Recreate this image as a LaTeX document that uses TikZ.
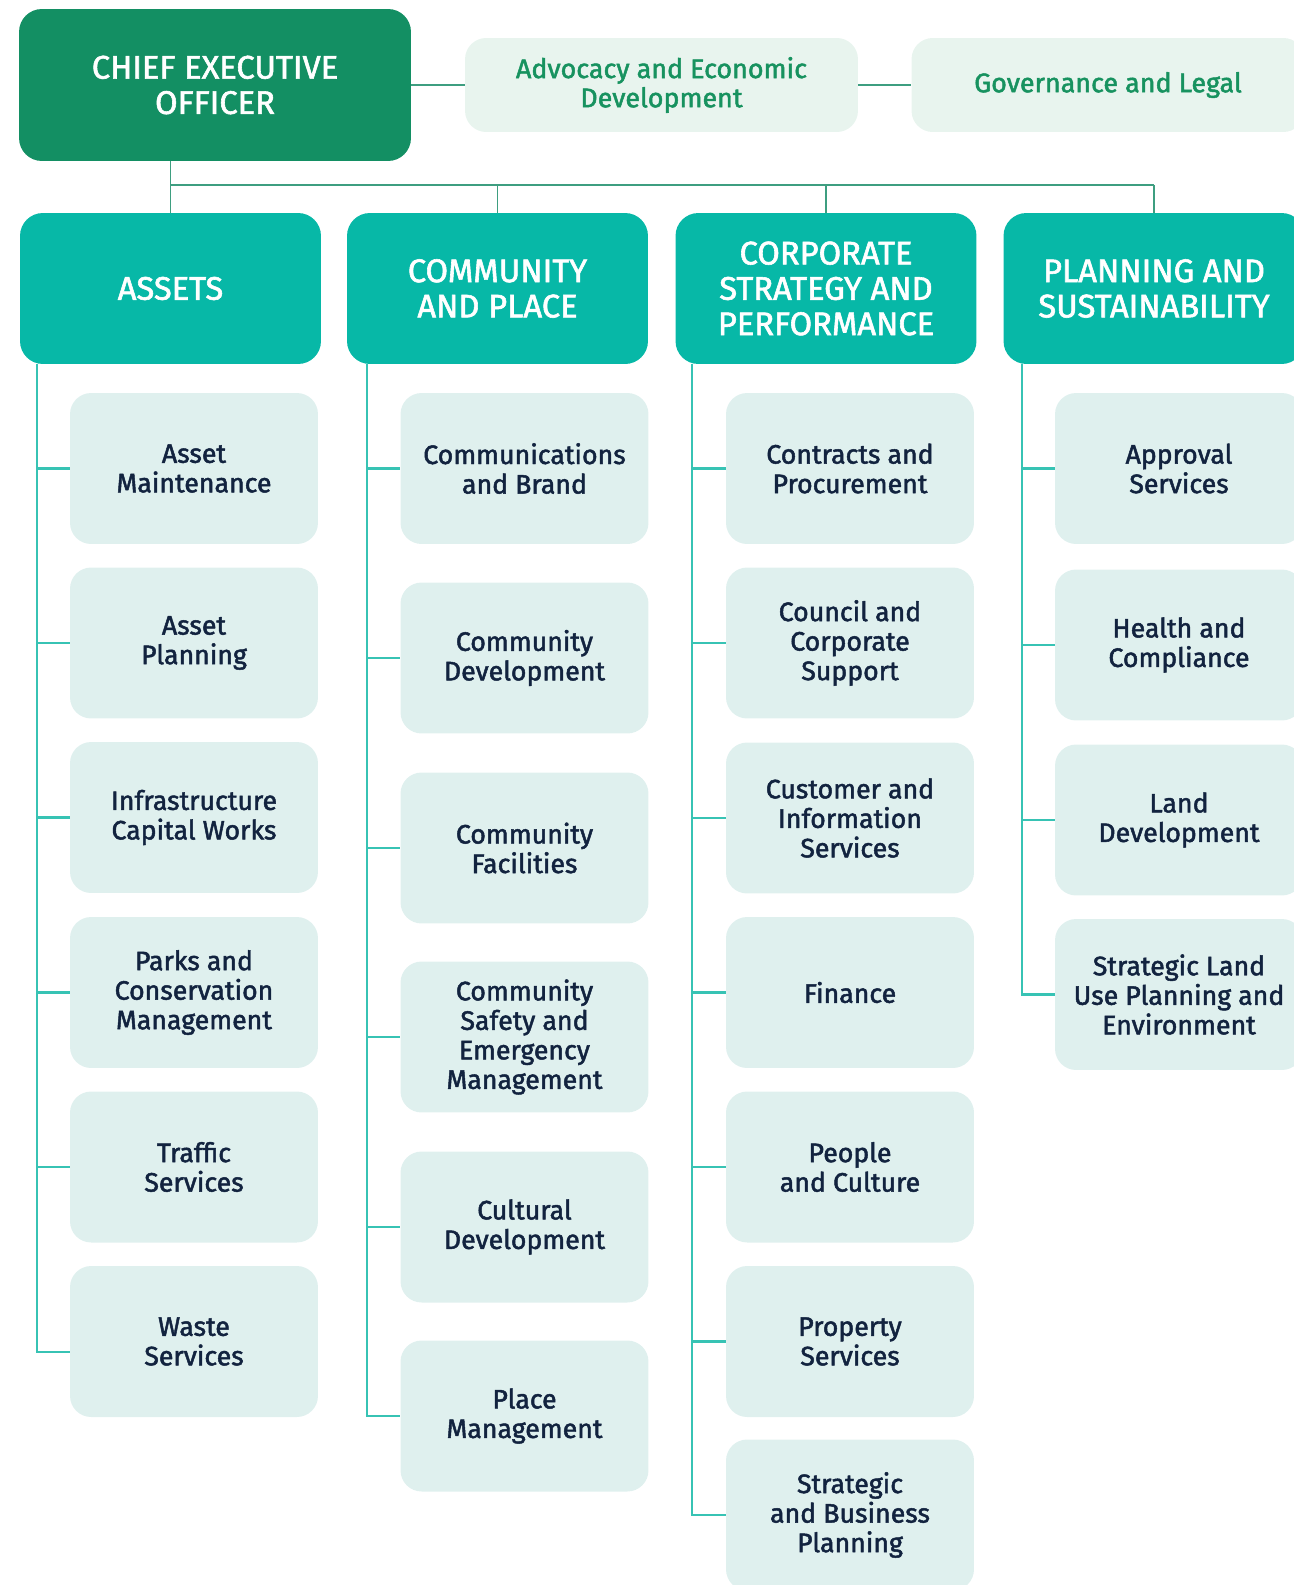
\documentclass[tikz,border=0pt]{standalone}
\usepackage{fontspec}
\setmainfont{Fira Sans}
\newfontfamily\unitface{Fira Sans}[FakeBold=1.8]
\usetikzlibrary{positioning}

\definecolor{ceogreen}{HTML}{138F63}
\definecolor{divteal}{HTML}{07B8A7}
\definecolor{sidefill}{HTML}{E8F4EE}
\definecolor{sidetext}{HTML}{17925F}
\definecolor{unitfill}{HTML}{DFF0EE}
\definecolor{unittext}{HTML}{12233F}
\definecolor{linkgreen}{HTML}{3E9E80}
\definecolor{branchteal}{HTML}{37C3B4}

\newcommand{\headfont}{\unitface\fontsize{18.6}{20.1}\selectfont}
\newcommand{\sidefont}{\unitface\fontsize{15.3}{16.6}\selectfont}
\newcommand{\unitfont}{\unitface\fontsize{15.2}{16.8}\selectfont}

\tikzset{%
  ceo/.style={fill=ceogreen, text=white, rounded corners=13pt, minimum width=7.84cm, minimum height=3.04cm, align=center, font=\headfont},
  side/.style={fill=sidefill, text=sidetext, rounded corners=12pt, minimum width=7.86cm, minimum height=1.88cm, align=center, font=\sidefont},
  division/.style={fill=divteal, text=white, rounded corners=13pt, minimum width=6.02cm, minimum height=3.02cm, align=center, font=\headfont},
  unit/.style={fill=unitfill, text=unittext, rounded corners=12pt, minimum width=4.96cm, minimum height=3.02cm, align=center, font=\unitfont},
  link/.style={draw=linkgreen, line width=1.1pt},
  branch/.style={draw=branchteal, line width=1.2pt}
}

\begin{document}
\begin{tikzpicture}[x=0.02cm, y=-0.02cm]
    \path[use as bounding box] (0,0) rectangle (1294,1585);

    % top row
    \node[ceo] (ceo) at (215,85) {CHIEF EXECUTIVE\\OFFICER};
    \node[side] (adv) at (661.5,85) {Advocacy and Economic\\Development};
    \node[side] (gov) at (1108,85) {Governance and Legal};

    % divisions
    \node[division] (assets) at (170.5,288.5) {ASSETS};
    \node[division] (community) at (497.5,288.5) {COMMUNITY\\AND PLACE};
    \node[division] (corporate) at (826,288.5) {CORPORATE\\STRATEGY AND\\PERFORMANCE};
    \node[division] (planning) at (1154,288.5) {PLANNING AND\\SUSTAINABILITY};

    % assets
    \node[unit] (am) at (194,468.5) {Asset\\Maintenance};
    \node[unit] (ap) at (194,643) {Asset\\Planning};
    \node[unit] (ic) at (194,817.5) {Infrastructure\\Capital Works};
    \node[unit] (pc) at (194,992.5) {Parks and\\Conservation\\Management};
    \node[unit] (ts) at (194,1167) {Traffic\\Services};
    \node[unit] (ws) at (194,1341.5) {Waste\\Services};

    % community and place
    \node[unit] (cb) at (524.5,468.5) {Communications\\and Brand};
    \node[unit] (cd) at (524.5,658) {Community\\Development};
    \node[unit] (cf) at (524.5,848) {Community\\Facilities};
    \node[unit] (cs) at (524.5,1037) {Community\\Safety and\\Emergency\\Management};
    \node[unit] (cu) at (524.5,1227) {Cultural\\Development};
    \node[unit] (pm) at (524.5,1416) {Place\\Management};

    % corporate strategy and performance
    \node[unit] (cp) at (850,468.5) {Contracts and\\Procurement};
    \node[unit] (cc) at (850,643) {Council and\\Corporate\\Support};
    \node[unit] (ci) at (850,818) {Customer and\\Information\\Services};
    \node[unit] (fi) at (850,992.5) {Finance};
    \node[unit] (pe) at (850,1167) {People\\and Culture};
    \node[unit] (ps) at (850,1341.5) {Property\\Services};
    \node[unit] (sb) at (850,1515) {Strategic\\and Business\\Planning};

    % planning and sustainability
    \node[unit] (as) at (1179,468.5) {Approval\\Services};
    \node[unit] (hc) at (1179,645) {Health and\\Compliance};
    \node[unit] (ld) at (1179,820) {Land\\Development};
    \node[unit] (sl) at (1179,994.5) {Strategic Land\\Use Planning and\\Environment};

    % reporting lines
    \coordinate (bus) at (0,185);
    \draw[link] (ceo.east) -- (adv.west);
    \draw[link] (adv.east) -- (gov.west);
    \draw[link] (ceo.south -| assets.north) -- (assets.north);
    \draw[link] (assets.north |- bus) -- (planning.north |- bus);
    \draw[link] (community.north |- bus) -- (community.north);
    \draw[link] (corporate.north |- bus) -- (corporate.north);
    \draw[link] (planning.north |- bus) -- (planning.north);

    \coordinate (aspine) at (37,364);
    \coordinate (cspine) at (367,364);
    \coordinate (pspine) at (692,364);
    \coordinate (sspine) at (1022,364);

    \draw[branch] (aspine) |- ([yshift=-6pt]ws.west)
        (aspine |- am.west) -- (am.west) (aspine |- ap.west) -- (ap.west)
        (aspine |- ic.west) -- (ic.west) (aspine |- pc.west) -- (pc.west)
        (aspine |- ts.west) -- (ts.west);
    \draw[branch] (cspine) |- (pm.west)
        (cspine |- cb.west) -- (cb.west) (cspine |- cd.west) -- (cd.west)
        (cspine |- cf.west) -- (cf.west) (cspine |- cs.west) -- (cs.west)
        (cspine |- cu.west) -- (cu.west);
    \draw[branch] (pspine) |- (sb.west)
        (pspine |- cp.west) -- (cp.west) (pspine |- cc.west) -- (cc.west)
        (pspine |- ci.west) -- (ci.west) (pspine |- fi.west) -- (fi.west)
        (pspine |- pe.west) -- (pe.west) (pspine |- ps.west) -- (ps.west);
    \draw[branch] (sspine) |- (sl.west)
        (sspine |- as.west) -- (as.west) (sspine |- hc.west) -- (hc.west)
        (sspine |- ld.west) -- (ld.west);
\end{tikzpicture}
\end{document}
